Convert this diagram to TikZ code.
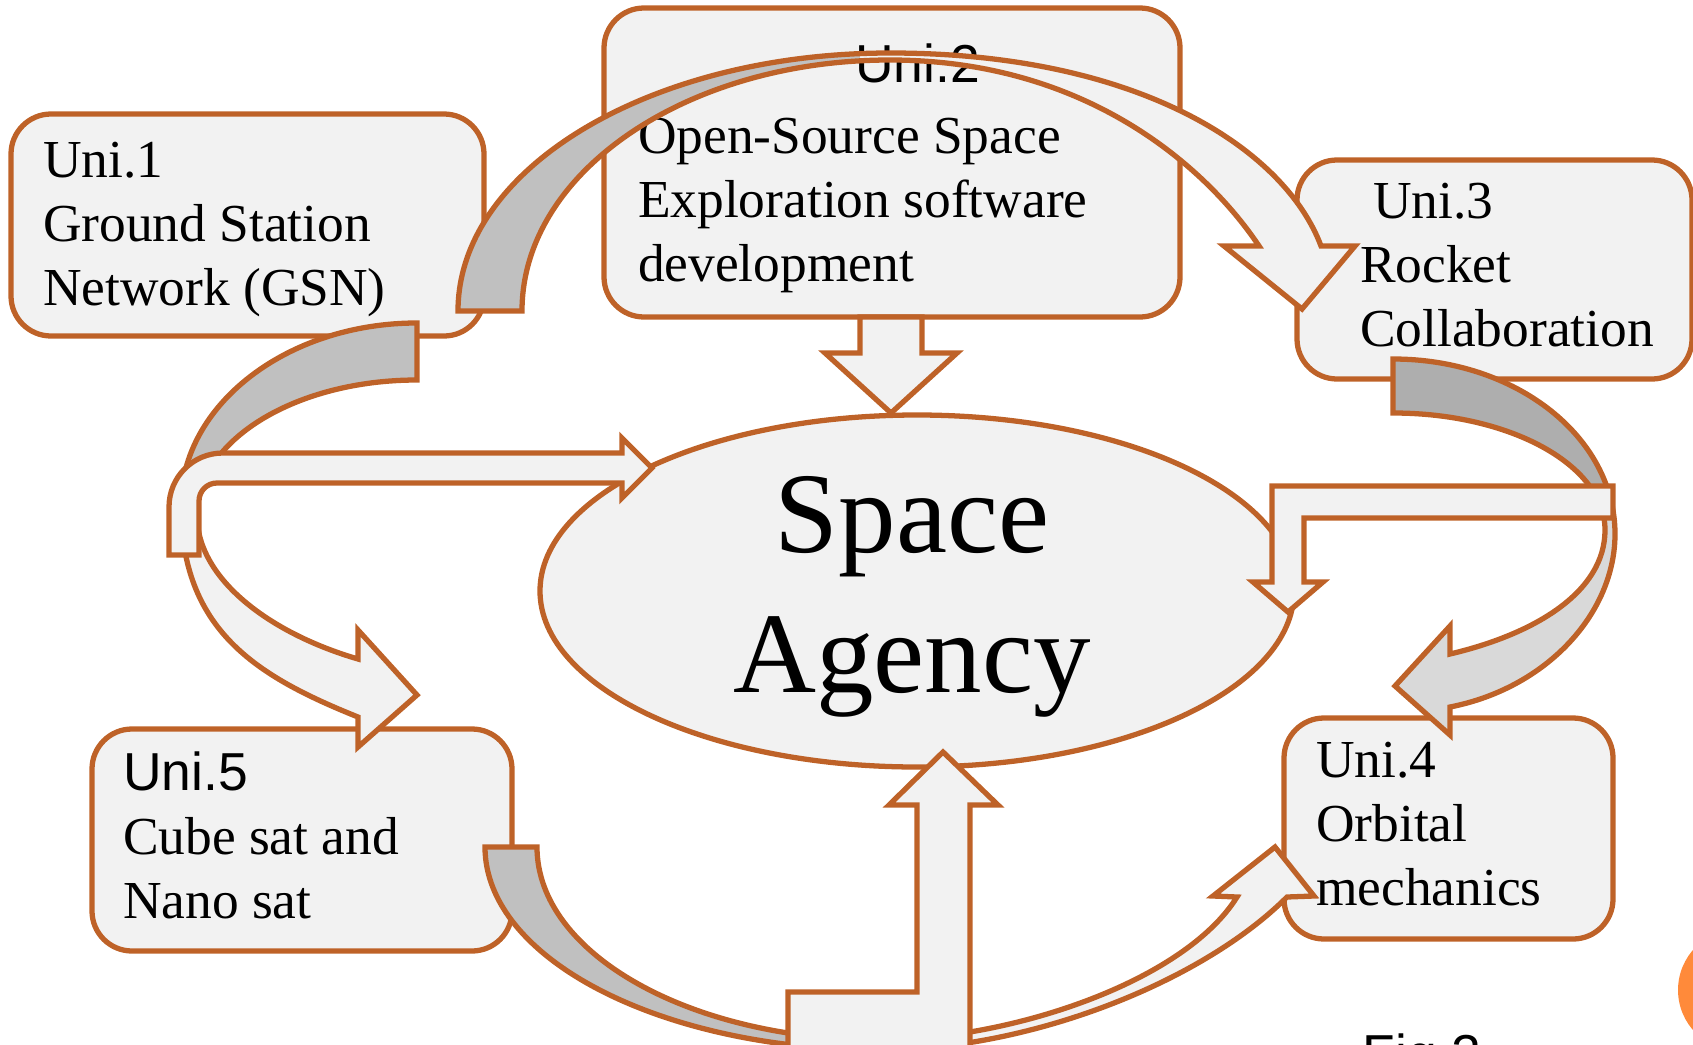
\documentclass[tikz,border=0pt]{standalone}
\usepackage{fontspec}
\setmainfont{Liberation Serif}
\setsansfont{Liberation Sans}
\usetikzlibrary{positioning,shapes.geometric}

\definecolor{unibrown}{RGB}{190,98,40}
\definecolor{boxgray}{RGB}{242,242,242}
\definecolor{backgray}{RGB}{192,192,192}
\definecolor{shadegray}{RGB}{174,174,174}
\definecolor{palegray}{RGB}{217,217,217}
\definecolor{dotorange}{RGB}{255,138,58}

\tikzset{
  unibox/.style={draw=unibrown, line width=1.5pt, fill=boxgray, rounded corners=4mm, inner sep=0pt},
  unitext/.style={align=left, inner sep=0pt, font=\fontsize{15.2pt}{18.2pt}\selectfont},
  blockarrow/.style={draw=unibrown, line width=1.5pt, fill=boxgray},
}

\begin{document}
\begin{tikzpicture}[x=0.1mm, y=-0.1mm]
	% the slide, pixel units from the top left corner
	\useasboundingbox (0,0) rectangle (1693,1044);
	\clip (0,0) rectangle (1693,1044);
	% the five universities
	\node[unibox, minimum width=47.3mm, minimum height=22.2mm] (uni1) at (247.5,225) {};
	\node[unibox, minimum width=57.6mm, minimum height=30.9mm] (uni2) at (892,162.5) {};
	\node[unibox, minimum width=39.5mm, minimum height=21.9mm] (uni3) at (1494.5,269.5) {};
	\node[unibox, minimum width=32.9mm, minimum height=22.1mm] (uni4) at (1448.5,828.5) {};
	\node[unibox, minimum width=42.0mm, minimum height=22.2mm] (uni5) at (302,840) {};
	% their labels
	\node[unitext, right=3.4mm of uni1.west, yshift=-0.45mm] (uni1txt) {Uni.1\\Ground Station\\Network (GSN)};
	\node[unitext, right=3.6mm of uni2.west, yshift=-0.57mm] (uni2txt) {\hspace*{21.7mm}{\sffamily Uni.2}\\[2pt]Open-Source Space\\Exploration software\\development};
	\node[unitext, right=6.5mm of uni3.west, yshift=0.43mm] (uni3txt) {\hspace*{1.3mm}Uni.3\\Rocket\\Collaboration};
	\node[unitext, right=3.4mm of uni4.west, yshift=0.43mm] (uni4txt) {Uni.4\\Orbital\\mechanics};
	\node[unitext, right=3.3mm of uni5.west, yshift=0.48mm] (uni5txt) {{\sffamily Uni.5}\\Cube sat and\\Nano sat};
	% the agency in the middle
	\node[ellipse, draw=unibrown, line width=1.5pt, fill=boxgray, minimum width=75.4mm, minimum height=35.2mm, inner sep=0pt] (agency) at (917,591) {};
	\node[align=center, inner sep=0pt, font=\fontsize{32.7pt}{39.8pt}\selectfont] (agencytxt) at ([shift={(-5,5.5)}]agency.center) {Space\\Agency};
	% the ring of curved arrows
	% - from Uni.1 over Uni.2 to Uni.3
	\draw[blockarrow, path picture={\fill[backgray] (0,0) rectangle (860,400);}]
		(458,311) .. controls (458,168) and (651,53) .. (890,53)
		.. controls (1140,53) and (1285,150) .. (1321,246)
		-- (1355,246) -- (1302,309) -- (1224,246) -- (1259,246)
		.. controls (1209,171) and (1090,60) .. (890,60)
		.. controls (687,60) and (522,172) .. (522,311) -- cycle;
	% - from Uni.3 down to Uni.4
	\draw[blockarrow, fill=palegray, path picture={\fill[shadegray] (1300,300) rectangle (1700,500);}]
		(1393,359) .. controls (1516,359) and (1615,437) .. (1615,534)
		.. controls (1615,613) and (1547,688) .. (1450,707)
		-- (1450,735) -- (1395,686) -- (1450,626) -- (1450,654)
		.. controls (1535,634) and (1605,592) .. (1605,530)
		.. controls (1605,465) and (1510,413) .. (1393,413) -- cycle;
	% - from Uni.5 under the agency to Uni.4
	\draw[blockarrow, path picture={\fill[backgray] (400,800) rectangle (880,1100);}]
		(485,847) .. controls (485,959) and (662,1050) .. (880,1050)
		.. controls (1030,1050) and (1202,982) .. (1287,897)
		-- (1314,896) -- (1275,847) -- (1213,896) -- (1237,897)
		.. controls (1184,982) and (1010,1040) .. (880,1040)
		.. controls (691,1040) and (537,954) .. (537,847) -- cycle;
	% - from Uni.1 round the left to Uni.5
	\draw[blockarrow, path picture={\fill[backgray] (100,300) rectangle (450,510);}]
		(417,323) .. controls (287,323) and (181,405) .. (181,505)
		.. controls (181,630) and (256,676) .. (358,717)
		-- (358,747) -- (417,695) -- (358,630) -- (358,659)
		.. controls (272,634) and (197,580) .. (197,515)
		.. controls (197,440) and (296,380) .. (417,380) -- cycle;
	% the arrows into the agency
	% - from Uni.2
	\draw[blockarrow] (860,317) -- (860,353) -- (825,353) -- (891,413) -- (957,353) -- (922,353) -- (922,317) -- cycle;
	% - bent, from the left
	\draw[blockarrow] (169,555) -- (169,507) .. controls (169,477) and (193,453) .. (223,453) -- (622,453) -- (622,438) -- (652,468)
		-- (622,498) -- (622,483) -- (217,483) .. controls (207,483) and (199,491) .. (199,501) -- (199,555) -- cycle;
	% - bent, from the right
	\draw[blockarrow] (1613,486) -- (1272,486) -- (1272,582) -- (1253,582) -- (1288,612) -- (1323,582) -- (1304,582) -- (1304,518) -- (1613,518) -- cycle;
	% - bent, from below
	\draw[blockarrow] (788,1060) -- (788,992) -- (917,992) -- (917,805) -- (889,805) -- (943,752) -- (998,805) -- (970,805) -- (970,1060) -- cycle;
	% bits of the slide cut off at the bottom
	\fill[dotorange] (1739,990) circle[radius=6.1mm];
	\node[anchor=base west, inner sep=0pt, font=\sffamily\fontsize{15.2pt}{18.2pt}\selectfont] (figlabel) at (1362,1072) {Fig.2};
\end{tikzpicture}
\end{document}
